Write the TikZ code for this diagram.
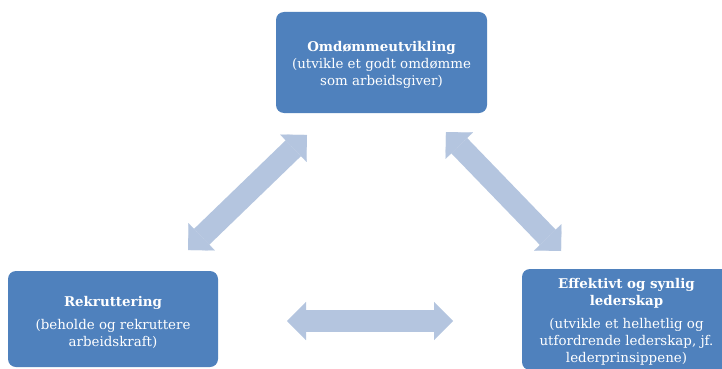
\documentclass[tikz,border=0pt]{standalone}
\usepackage{fontspec}
\setmainfont{DejaVu Serif}
\usetikzlibrary{arrows.meta}
\definecolor{boxblue}{HTML}{4F81BD}
\definecolor{arrowblue}{HTML}{B4C5DF}
\tikzset{
  box/.style={fill=boxblue, rounded corners=8pt, inner sep=0pt},
  boxtext/.style={text=white, align=center, inner sep=0pt, font=\fontsize{13.4}{17}\selectfont},
  bigarrow/.style={draw=arrowblue, line width=22pt,
    {Triangle[width=38pt,length=19pt,line width=0.1pt,fill=arrowblue]}-{Triangle[width=38pt,length=19pt,line width=0.1pt,fill=arrowblue]}}
}
\begin{document}
\begin{tikzpicture}[x=1pt,y=-1pt]
\useasboundingbox (0,0) rectangle (722,369);
\clip (0,0) rectangle (722,369);
\fill[white] (0,0) rectangle (722,369);
\node[box, minimum width=211pt, minimum height=101pt] (top) at (381.5,62.5) {};
\node[box, minimum width=210pt, minimum height=96pt] (left) at (113,319) {};
\node[box, minimum width=209pt, minimum height=101pt] (right) at (626.5,319.5) {};
\node[boxtext] (toptext) at (381.5,64.5)
  {\textbf{Omdømmeutvikling}\\(utvikle et godt omdømme\\som arbeidsgiver)};
\node[boxtext] (lefttext) at (113,322.5)
  {\textbf{Rekruttering}\\[6pt](beholde og rekruttere\\arbeidskraft)};
\node[boxtext] (righttext) at (626.5,322)
  {\textbf{Effektivt og synlig}\\\textbf{lederskap}\\[6pt](utvikle et helhetlig og\\utfordrende lederskap, jf.\\lederprinsippene)};
\coordinate (a1) at (307,135);
\coordinate (a2) at (188,250);
\coordinate (b1) at (446,132);
\coordinate (b2) at (561,251);
\coordinate (c1) at (287,321);
\coordinate (c2) at (453,321);
\draw[bigarrow] (a1) -- (a2);
\draw[bigarrow] (b1) -- (b2);
\draw[bigarrow] (c1) -- (c2);
\end{tikzpicture}
\end{document}
